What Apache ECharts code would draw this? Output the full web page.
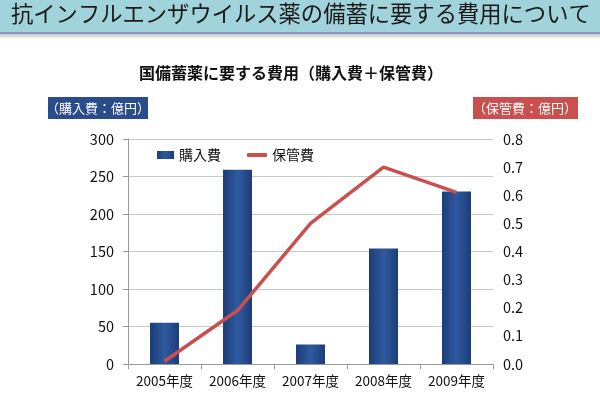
<!DOCTYPE html>
<html>
<head>
<meta charset="utf-8">
<script src="https://cdn.jsdelivr.net/npm/echarts@6/dist/echarts.min.js"></script>
<style>
  html, body { margin: 0; padding: 0; background: #fff; }
  #chart { width: 600px; height: 399px; }
</style>
</head>
<body>
<div id="chart"></div>
<script>
// 年度
const categories = ["2005年度", "2006年度", "2007年度", "2008年度", "2009年度"];
// 購入費（億円）
const purchaseCost = [55, 259, 26, 154, 230];
// 保管費（億円）
const storageCost = [0.01, 0.19, 0.5, 0.7, 0.61];

const leftTicks = { min: 0, max: 300, interval: 50 };
const rightTicks = { min: 0, max: 0.8, interval: 0.1 };

const FONT = "'Noto Sans CJK JP', 'Noto Sans', sans-serif";

const chart = echarts.init(document.getElementById("chart"));

const option = {
  backgroundColor: "#fff",
  textStyle: { fontFamily: FONT },
  graphic: [
    // タイトル帯
    { type: "rect", shape: { x: 0, y: 0, width: 600, height: 32 }, style: { fill: "#a0d3da" } },
    { type: "rect", shape: { x: 0, y: 32, width: 600, height: 2 }, style: { fill: "#8f94c4" } },
    {
      type: "rect", shape: { x: 0, y: 34, width: 600, height: 5 },
      style: {
        fill: new echarts.graphic.LinearGradient(0, 0, 0, 1, [
          { offset: 0, color: "#c4c4c4" },
          { offset: 1, color: "#ffffff" }
        ])
      }
    },
    {
      type: "text", left: 11, top: 2,
      style: { text: "抗インフルエンザウイルス薬の備蓄に要する費用について", font: "22.3px " + FONT, fill: "#1a1a1a" }
    },
    // サブタイトル
    {
      type: "text", x: 291, y: 73,
      style: { text: "国備蓄薬に要する費用（購入費＋保管費）", font: "bold 16px " + FONT, fill: "#111", align: "center", verticalAlign: "middle" }
    },
    // 軸の単位ラベル
    { type: "rect", shape: { x: 48, y: 97, width: 100, height: 22 }, style: { fill: "#2b4c8a" } },
    {
      type: "text", x: 98, y: 108,
      style: { text: "（購入費：億円）", font: "13px " + FONT, fill: "#fff", align: "center", verticalAlign: "middle" }
    },
    { type: "rect", shape: { x: 473, y: 97, width: 105, height: 22 }, style: { fill: "#c9504f" } },
    {
      type: "text", x: 525, y: 108,
      style: { text: "（保管費：億円）", font: "13px " + FONT, fill: "#fff", align: "center", verticalAlign: "middle" }
    }
  ],
  legend: [
    {
      left: 152,
      top: 143,
      itemWidth: 17,
      itemHeight: 8,
      textStyle: { fontSize: 14, color: "#111", fontFamily: FONT },
      data: [{ name: "購入費", icon: "rect" }]
    },
    {
      left: 242,
      top: 143,
      itemWidth: 20,
      itemHeight: 4,
      textStyle: { fontSize: 14, color: "#111", fontFamily: FONT },
      data: [{ name: "保管費", icon: "roundRect" }]
    }
  ],
  grid: { left: 128, right: 107, top: 139, bottom: 35 },
  xAxis: {
    type: "category",
    data: categories,
    axisLine: { lineStyle: { color: "#999" } },
    axisTick: { show: true, alignWithLabel: false, length: 5, lineStyle: { color: "#999" } },
    axisLabel: { color: "#111", fontSize: 13.5, margin: 10, interval: 0, fontFamily: FONT }
  },
  yAxis: [
    {
      type: "value",
      min: leftTicks.min, max: leftTicks.max, interval: leftTicks.interval,
      axisLine: { show: true, lineStyle: { color: "#999" } },
      axisTick: { show: true, length: 5, lineStyle: { color: "#999" } },
      axisLabel: { color: "#111", fontSize: 14.5, margin: 14, fontFamily: FONT },
      splitLine: { lineStyle: { color: "#c8c8c8" } }
    },
    {
      type: "value",
      min: rightTicks.min, max: rightTicks.max, interval: rightTicks.interval,
      axisLine: { show: false },
      axisTick: { show: false },
      axisLabel: { color: "#111", fontSize: 14.5, margin: 10, fontFamily: FONT, formatter: v => v.toFixed(1) },
      splitLine: { show: false }
    }
  ],
  series: [
    {
      name: "購入費",
      type: "bar",
      yAxisIndex: 0,
      data: purchaseCost,
      barWidth: 29,
      itemStyle: {
        color: new echarts.graphic.LinearGradient(0, 0, 1, 0, [
          { offset: 0, color: "#1c3d78" },
          { offset: 0.5, color: "#2f5a9f" },
          { offset: 1, color: "#1c3d78" }
        ])
      }
    },
    {
      name: "保管費",
      type: "line",
      yAxisIndex: 1,
      data: storageCost,
      symbol: "none",
      lineStyle: { color: "#c9504f", width: 3.5 },
      itemStyle: { color: "#c9504f" }
    }
  ]
};

chart.setOption(option);
</script>
</body>
</html>
